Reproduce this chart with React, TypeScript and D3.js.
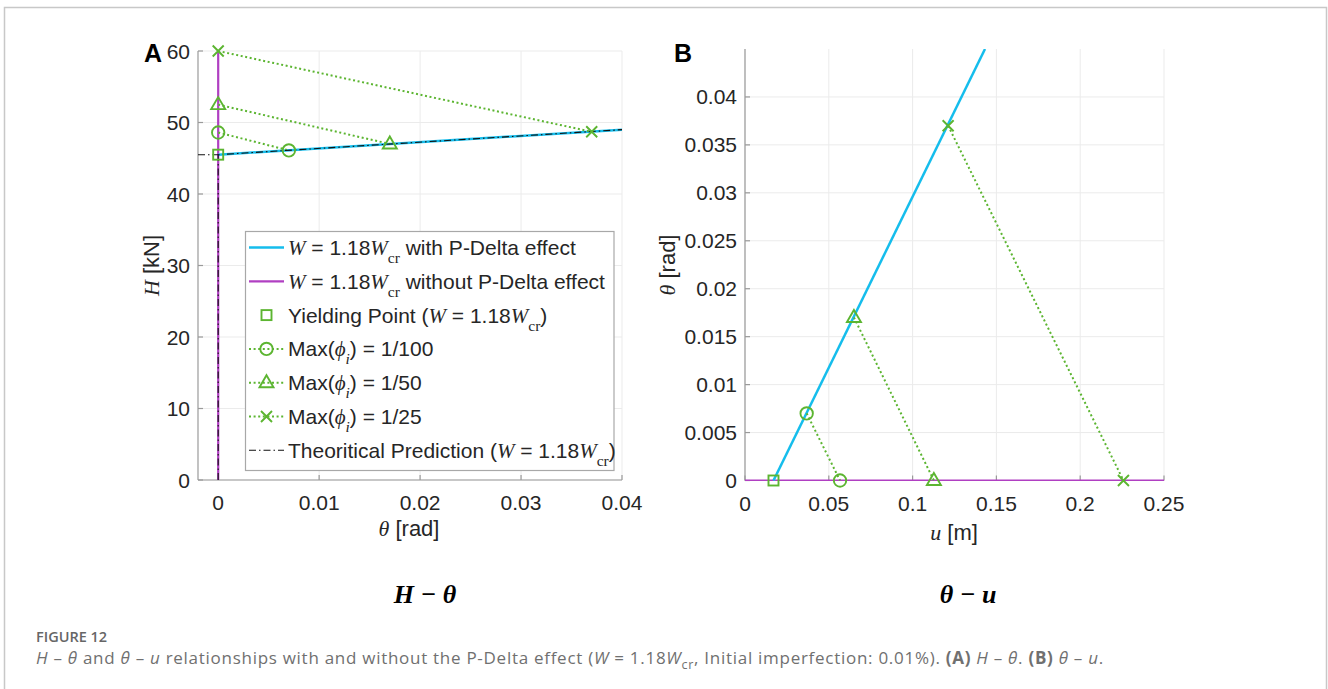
import React from 'react';
import * as d3 from 'd3';

// ---------- Data (panel A: H vs theta) ----------
const aWithTheta = [0, 0.04];
const aWithH = [45.5, 49.0];
const aWithoutTheta = [0, 0];
const aWithoutH = [0, 60];
const aYieldTheta = [0];
const aYieldH = [45.5];
const aDrift100Theta = [0, 0.007];
const aDrift100H = [48.6, 46.1];
const aDrift50Theta = [0, 0.017];
const aDrift50H = [52.5, 47.0];
const aDrift25Theta = [0, 0.037];
const aDrift25H = [60, 48.7];
const aTheoryTheta = [-0.002, 0, 0.04];
const aTheoryH = [45.5, 45.5, 49.0];
const aTheoryVertTheta = [0, 0];
const aTheoryVertH = [0, 45.5];
const aThetaTicks = [0, 0.01, 0.02, 0.03, 0.04];
const aThetaTickLabels = ['0', '0.01', '0.02', '0.03', '0.04'];
const aHTicks = [0, 10, 20, 30, 40, 50, 60];
const aHTickLabels = ['0', '10', '20', '30', '40', '50', '60'];

// ---------- Data (panel B: theta vs u) ----------
const bWithU = [0.017, 0.1432];
const bWithTheta = [0, 0.045];
const bWithoutU = [0, 0.25];
const bWithoutTheta = [0, 0];
const bYieldU = [0.017];
const bYieldTheta = [0];
const bDrift100U = [0.0368, 0.0567];
const bDrift100Theta = [0.007, 0];
const bDrift50U = [0.065, 0.1127];
const bDrift50Theta = [0.017, 0];
const bDrift25U = [0.1212, 0.2258];
const bDrift25Theta = [0.037, 0];
const bUTicks = [0, 0.05, 0.1, 0.15, 0.2, 0.25];
const bUTickLabels = ['0', '0.05', '0.1', '0.15', '0.2', '0.25'];
const bThetaTicks = [0, 0.005, 0.01, 0.015, 0.02, 0.025, 0.03, 0.035, 0.04];
const bThetaTickLabels = ['0', '0.005', '0.01', '0.015', '0.02', '0.025', '0.03', '0.035', '0.04'];

// ---------- Styles ----------
const SANS = '"Liberation Sans", Arial, Helvetica, sans-serif';
const SERIF = '"Liberation Serif", "DejaVu Serif", "Times New Roman", serif';
const CAP = '"Open Sans", "Noto Sans", sans-serif';
const CYAN = '#15bdec';
const PURPLE = '#b03fc2';
const GREEN = '#5cb531';
const GRID = '#ebebeb';
const AXIS = '#9a9a9a';
const TXT = '#262626';

type Seg = { t: string; i?: boolean; s?: boolean; sub?: boolean; b?: boolean; size?: number };

function Rich({ x, y, segs, size, family, fill, anchor, transform, subShift = 7, subSize, letterSpacing }: any) {
  let cur = 0;
  const out: any[] = [];
  segs.forEach((sg: Seg, k: number) => {
    const target = sg.sub ? subShift : 0;
    const dy = target - cur;
    cur = target;
    out.push(
      <tspan
        key={k}
        dy={dy || undefined}
        fontStyle={sg.i ? 'italic' : 'normal'}
        fontWeight={sg.b ? 'bold' : undefined}
        fontFamily={sg.s ? SERIF : undefined}
        fontSize={sg.sub ? subSize || size * 0.72 : sg.size || undefined}
      >
        {sg.t}
      </tspan>
    );
  });
  return (
    <text x={x} y={y} fontSize={size} fontFamily={family} fill={fill} textAnchor={anchor} transform={transform} letterSpacing={letterSpacing} style={{ whiteSpace: 'pre' }}>
      {out}
    </text>
  );
}

function Marker({ type, x, y }: { type: string; x: number; y: number }) {
  const common = { fill: 'none', stroke: GREEN, strokeWidth: 1.9 };
  if (type === 'square') return <rect x={x - 5} y={y - 5} width={10} height={10} {...common} />;
  if (type === 'circle') return <circle cx={x} cy={y} r={6.2} {...common} />;
  if (type === 'triangle')
    return <path d={`M${x},${y - 7.5}L${x + 7},${y + 4.5}L${x - 7},${y + 4.5}Z`} {...common} />;
  return <path d={`M${x - 5.5},${y - 5.5}L${x + 5.5},${y + 5.5}M${x + 5.5},${y - 5.5}L${x - 5.5},${y + 5.5}`} {...common} />;
}

function zip(a: number[], b: number[]): [number, number][] {
  return a.map((v, i) => [v, b[i]]);
}

function Axes({ x, y, xTicks, xLabels, yTicks, yLabels, fs }: any) {
  const [x0, x1] = x.range();
  const [y0, y1] = y.range();
  return (
    <g>
      {xTicks.map((t: number, i: number) => (
        <line key={'gx' + i} x1={x(t)} x2={x(t)} y1={y0} y2={y1} stroke={GRID} strokeWidth={1} />
      ))}
      {yTicks.map((t: number, i: number) => (
        <line key={'gy' + i} x1={x0} x2={x1} y1={y(t)} y2={y(t)} stroke={GRID} strokeWidth={1} />
      ))}
      <line x1={x0} x2={x0} y1={y0} y2={y1} stroke={AXIS} strokeWidth={1.2} />
      <line x1={x0} x2={x1} y1={y0} y2={y0} stroke={AXIS} strokeWidth={1.2} />
      {xTicks.map((t: number, i: number) => (
        <line key={'tx' + i} x1={x(t)} x2={x(t)} y1={y0} y2={y0 - 5} stroke={AXIS} strokeWidth={1.2} />
      ))}
      {yTicks.map((t: number, i: number) => (
        <line key={'ty' + i} x1={x0} x2={x0 + 5} y1={y(t)} y2={y(t)} stroke={AXIS} strokeWidth={1.2} />
      ))}
      {xTicks.map((t: number, i: number) => (
        <text key={'lx' + i} x={x(t)} y={y0 + 30} fontSize={fs} fontFamily={SANS} fill={TXT} textAnchor="middle">
          {xLabels[i]}
        </text>
      ))}
      {yTicks.map((t: number, i: number) => (
        <text key={'ly' + i} x={x0 - 8} y={y(t) + 7.5} fontSize={fs} fontFamily={SANS} fill={TXT} textAnchor="end">
          {yLabels[i]}
        </text>
      ))}
    </g>
  );
}

export default function App() {
  const xA = d3.scaleLinear().domain([-0.002, 0.04]).range([198, 622]);
  const yA = d3.scaleLinear().domain([0, 60]).range([480, 51]);
  const xB = d3.scaleLinear().domain([0, 0.25]).range([745, 1164]);
  const yB = d3.scaleLinear().domain([0, 0.045]).range([480.5, 49]);

  const lineA = d3.line<[number, number]>().x((d) => xA(d[0])).y((d) => yA(d[1]));
  const lineB = d3.line<[number, number]>().x((d) => xB(d[0])).y((d) => yB(d[1]));

  const dotted = { fill: 'none', stroke: GREEN, strokeWidth: 2, strokeDasharray: '2,2.6' };
  const dashdot = { fill: 'none', stroke: '#111', strokeWidth: 1.1, strokeDasharray: '7,3,1.5,3' };

  const W_EQ: Seg[] = [
    { t: 'W', i: true, s: true },
    { t: ' = 1.18' },
    { t: 'W', i: true, s: true },
    { t: 'cr', s: true, sub: true },
  ];
  const legendRows: { seg: Seg[]; kind: string }[] = [
    { kind: 'cyan', seg: [...W_EQ, { t: ' with P-Delta effect' }] },
    { kind: 'purple', seg: [...W_EQ, { t: ' without P-Delta effect' }] },
    { kind: 'square', seg: [{ t: 'Yielding Point (' }, ...W_EQ, { t: ')' }] },
    { kind: 'circle', seg: [{ t: 'Max(' }, { t: 'ϕ', i: true, s: true }, { t: 'i', i: true, s: true, sub: true }, { t: ') = 1/100' }] },
    { kind: 'triangle', seg: [{ t: 'Max(' }, { t: 'ϕ', i: true, s: true }, { t: 'i', i: true, s: true, sub: true }, { t: ') = 1/50' }] },
    { kind: 'x', seg: [{ t: 'Max(' }, { t: 'ϕ', i: true, s: true }, { t: 'i', i: true, s: true, sub: true }, { t: ') = 1/25' }] },
    { kind: 'theory', seg: [{ t: 'Theoritical Prediction (' }, ...W_EQ, { t: ')' }] },
  ];

  const capSegs: Seg[] = [
    { t: 'H', i: true }, { t: ' – ' }, { t: 'θ', i: true }, { t: ' and ' }, { t: 'θ', i: true }, { t: ' – ' }, { t: 'u', i: true },
    { t: ' relationships with and without the P-Delta effect (' }, { t: 'W', i: true }, { t: ' = 1.18' }, { t: 'W', i: true },
    { t: 'cr', sub: true }, { t: ', Initial imperfection: 0.01%). ' }, { t: '(A)', b: true }, { t: ' ' }, { t: 'H', i: true },
    { t: ' – ' }, { t: 'θ', i: true }, { t: '. ' }, { t: '(B)', b: true }, { t: ' ' }, { t: 'θ', i: true }, { t: ' – ' }, { t: 'u', i: true }, { t: '.' },
  ];

  return (
    <svg width={1328} height={689} style={{ position: 'absolute', left: 0, top: 0, background: '#fff' }}>
      <defs>
        <clipPath id="clipA"><rect x={198} y={51} width={424} height={429} /></clipPath>
        <clipPath id="clipB"><rect x={745} y={49} width={419} height={432} /></clipPath>
      </defs>
      <path d="M4.5,700V7.5H1326.5V700" fill="none" stroke="#c8c8c8" strokeWidth={1.5} />

      {/* Panel A */}
      <Axes x={xA} y={yA} xTicks={aThetaTicks} xLabels={aThetaTickLabels} yTicks={aHTicks} yLabels={aHTickLabels} fs={21} />
      <g clipPath="url(#clipA)">
        <path d={lineA(zip(aWithoutTheta, aWithoutH)) || ''} fill="none" stroke={PURPLE} strokeWidth={2.2} />
        <path d={lineA(zip(aWithTheta, aWithH)) || ''} fill="none" stroke={CYAN} strokeWidth={2.5} />
        <path d={lineA(zip(aDrift100Theta, aDrift100H)) || ''} {...dotted} />
        <path d={lineA(zip(aDrift50Theta, aDrift50H)) || ''} {...dotted} />
        <path d={lineA(zip(aDrift25Theta, aDrift25H)) || ''} {...dotted} />
        <path d={lineA(zip(aTheoryTheta, aTheoryH)) || ''} {...dashdot} />
        <path d={lineA(zip(aTheoryVertTheta, aTheoryVertH)) || ''} {...dashdot} />
      </g>
      {aYieldTheta.map((t, i) => <Marker key={'ay' + i} type="square" x={xA(t)} y={yA(aYieldH[i])} />)}
      {aDrift100Theta.map((t, i) => <Marker key={'a1' + i} type="circle" x={xA(t)} y={yA(aDrift100H[i])} />)}
      {aDrift50Theta.map((t, i) => <Marker key={'a2' + i} type="triangle" x={xA(t)} y={yA(aDrift50H[i])} />)}
      {aDrift25Theta.map((t, i) => <Marker key={'a3' + i} type="x" x={xA(t)} y={yA(aDrift25H[i])} />)}

      {/* Legend */}
      <rect x={245.5} y={231.5} width={368.5} height={239} fill="#fff" stroke="#a8a8a8" strokeWidth={1.2} />
      {legendRows.map((r, i) => {
        const cy = 247.5 + i * 33.8;
        return (
          <g key={'lg' + i}>
            {r.kind === 'cyan' && <line x1={249} x2={284} y1={cy} y2={cy} stroke={CYAN} strokeWidth={2.5} />}
            {r.kind === 'purple' && <line x1={249} x2={284} y1={cy} y2={cy} stroke={PURPLE} strokeWidth={2.2} />}
            {['circle', 'triangle', 'x'].includes(r.kind) && <line x1={249} x2={284} y1={cy} y2={cy} {...dotted} />}
            {r.kind === 'theory' && <line x1={249} x2={284} y1={cy} y2={cy} {...dashdot} />}
            {r.kind !== 'cyan' && r.kind !== 'purple' && r.kind !== 'theory' && <Marker type={r.kind} x={266.5} y={cy} />}
            <Rich x={288} y={cy + 7.5} segs={r.seg} size={21} family={SANS} fill={TXT} subShift={8} subSize={15.5} />
          </g>
        );
      })}

      {/* Panel A labels */}
      <Rich x={409} y={536} anchor="middle" size={22} family={SANS} fill={TXT} segs={[{ t: 'θ', i: true, s: true }, { t: ' [rad]' }]} />
      <Rich x={0} y={0} transform="translate(159,265.5) rotate(-90)" anchor="middle" size={22} family={SANS} fill={TXT} segs={[{ t: 'H', i: true, s: true }, { t: ' [kN]' }]} />
      <text x={144} y={62} fontSize={25} fontWeight="bold" fontFamily={SANS} fill="#000">A</text>

      {/* Panel B */}
      <Axes x={xB} y={yB} xTicks={bUTicks} xLabels={bUTickLabels} yTicks={bThetaTicks} yLabels={bThetaTickLabels} fs={21} />
      <g clipPath="url(#clipB)">
        <path d={lineB(zip(bWithoutU, bWithoutTheta)) || ''} fill="none" stroke={PURPLE} strokeWidth={2.2} />
        <path d={lineB(zip(bWithU, bWithTheta)) || ''} fill="none" stroke={CYAN} strokeWidth={2.5} />
        <path d={lineB(zip(bDrift100U, bDrift100Theta)) || ''} {...dotted} />
        <path d={lineB(zip(bDrift50U, bDrift50Theta)) || ''} {...dotted} />
        <path d={lineB(zip(bDrift25U, bDrift25Theta)) || ''} {...dotted} />
      </g>
      {bYieldU.map((u, i) => <Marker key={'by' + i} type="square" x={xB(u)} y={yB(bYieldTheta[i])} />)}
      {bDrift100U.map((u, i) => <Marker key={'b1' + i} type="circle" x={xB(u)} y={yB(bDrift100Theta[i])} />)}
      {bDrift50U.map((u, i) => <Marker key={'b2' + i} type="triangle" x={xB(u)} y={yB(bDrift50Theta[i])} />)}
      {bDrift25U.map((u, i) => <Marker key={'b3' + i} type="x" x={xB(u)} y={yB(bDrift25Theta[i])} />)}

      <Rich x={954} y={540} anchor="middle" size={22} family={SANS} fill={TXT} segs={[{ t: 'u', i: true, s: true }, { t: ' [m]' }]} />
      <Rich x={0} y={0} transform="translate(675,265) rotate(-90)" anchor="middle" size={22} family={SANS} fill={TXT} segs={[{ t: 'θ', i: true, s: true }, { t: ' [rad]' }]} />
      <text x={674} y={62} fontSize={25} fontWeight="bold" fontFamily={SANS} fill="#000">B</text>

      {/* Sub-titles */}
      <text x={425} y={603} textAnchor="middle" fontSize={26} fontWeight="bold" fontStyle="italic" fontFamily={SERIF} fill="#000" style={{ whiteSpace: 'pre' }}>H − θ</text>
      <text x={968} y={603} textAnchor="middle" fontSize={26} fontWeight="bold" fontStyle="italic" fontFamily={SERIF} fill="#000" style={{ whiteSpace: 'pre' }}>θ − u</text>

      {/* Caption */}
      <text x={36} y={642} fontSize={14.5} fontWeight={600} fontFamily={CAP} fill="#666">FIGURE 12</text>
      <Rich x={36} y={664} size={17} family={CAP} fill="#707070" segs={capSegs} subShift={4.5} subSize={12.5} letterSpacing={0.72} />
    </svg>
  );
}
